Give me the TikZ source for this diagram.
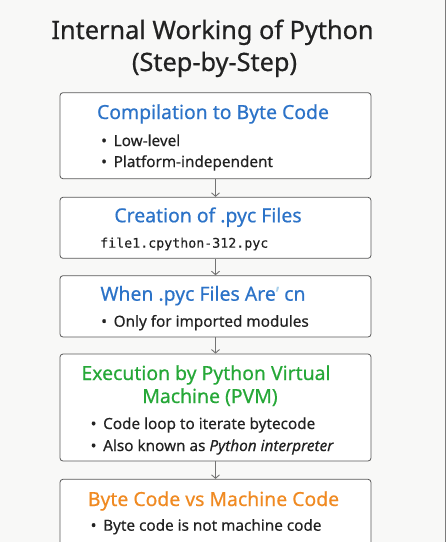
\documentclass[tikz,border=0pt]{standalone}
\usepackage{fontspec}
\setmainfont{Noto Sans}
\setmonofont{DejaVu Sans Mono}
\usetikzlibrary{arrows.meta}
\definecolor{bgc}{HTML}{F8F8F7}
\definecolor{edgec}{HTML}{5A5A5A}
\definecolor{txt}{HTML}{222222}
\definecolor{bluec}{HTML}{2C73C8}
\definecolor{greenc}{HTML}{26A838}
\definecolor{orangec}{HTML}{F08A22}
\definecolor{tickc}{HTML}{A8D0EC}
\tikzset{
  box/.style={draw=edgec, line width=0.8pt, fill=white, rounded corners=3pt, minimum width=311pt, inner sep=0pt},
  ttl/.style={anchor=base, inner sep=0pt, font=\fontsize{25.3}{28}\selectfont\addfontfeature{FakeBold=0.6}, text=txt},
  head/.style={anchor=base, inner sep=0pt, font=\fontsize{19.4}{22}\selectfont\addfontfeature{FakeBold=0.5}},
  item/.style={anchor=base west, inner sep=0pt, font=\fontsize{15.3}{19}\selectfont\addfontfeature{FakeBold=0.3}, text=txt},
  flow/.style={draw=edgec!85, line width=0.9pt, -{Straight Barb[length=3.5pt,width=8pt]}},
}
\newcommand{\bul}{\makebox[12.5pt][l]{\textbullet}}
\begin{document}
\begin{tikzpicture}[x=1pt,y=-1pt]
\useasboundingbox (0,0) rectangle (446,542);
\clip (0,0) rectangle (446,542);
\fill[bgc] (0,0) rectangle (446,542);
\fill[white] (445,0) rectangle (446,542);
\draw[edgec!80, line width=0.8pt] (445,0) -- (445,542);
\node[ttl] (t1) at (212.5,39) {Internal Working of Python};
\node[ttl] (t2) at (214.5,71) {(Step-by-Step)};
% boxes
\node[box, minimum height=86pt] (b1) at (215.5,135.7) {};
\node[box, minimum height=61pt] (b2) at (215.5,227.8) {};
\node[box, minimum height=61.3pt] (b3) at (215.5,306.35) {};
\node[box, minimum height=107pt] (b4) at (215.5,407.5) {};
\node[box, minimum height=82pt] (b5) at (215.5,520.3) {};
% arrows
\draw[flow] (b1.south) -- (b2.north);
\draw[flow] (b2.south) -- (b3.north);
\draw[flow] (b3.south) -- (b4.north);
\draw[flow] (b4.south) -- (b5.north);
% box 1
\node[head, text=bluec] (h1) at (213,119) {Compilation to Byte Code};
\node[item] (i11) at (101,146) {\bul Low-level};
\node[item] (i12) at (101,167) {\bul Platform-independent};
% box 2
\node[head, text=bluec] (h2) at (208,222.3) {Creation of .pyc Files};
\node[anchor=base west, inner sep=0pt, font=\ttfamily\fontsize{13.3}{16}\selectfont\addfontfeature{FakeBold=0.3}, text=txt] (i21) at (100,247.7) {file1.cpython-312.pyc};
% box 3
\node[head, text=bluec] (h3) at (203,300.7) {When .pyc Files Are{\color{tickc}'} cn};
\node[item] (i31) at (101,326.7) {\bul Only for imported modules};
% box 4
\node[head, text=greenc] (h41) at (206,380) {Execution by Python Virtual};
\node[head, text=greenc] (h42) at (210,403) {Machine (PVM)};
\node[item] (i41) at (90.5,429) {\bul Code loop to iterate bytecode};
\node[item] (i42) at (90.5,451) {\bul Also known as \textit{Python interpreter}};
% box 5
\node[head, text=orangec] (h5) at (213.5,506) {Byte Code vs Machine Code};
\node[item] (i51) at (90.5,530.7) {\bul Byte code is not machine code};
\end{tikzpicture}
\end{document}
